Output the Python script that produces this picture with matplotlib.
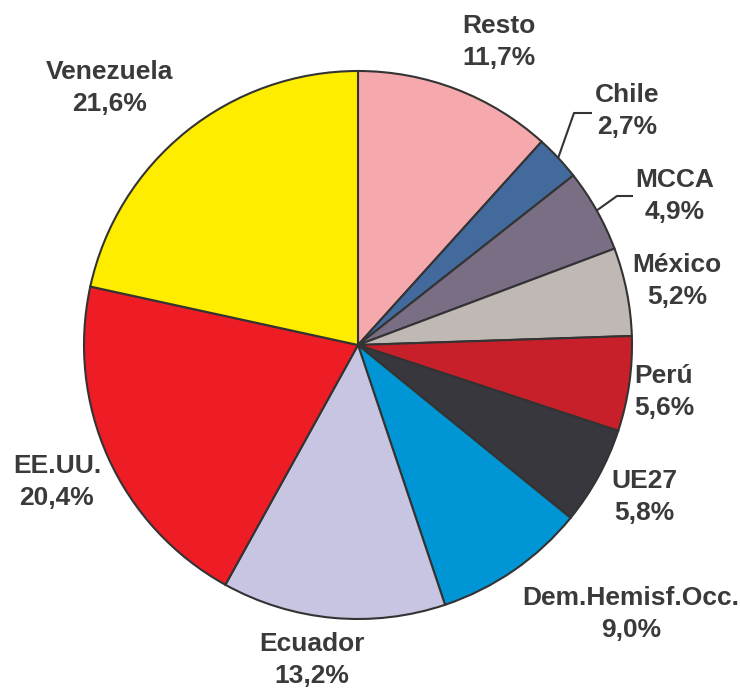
import numpy as np
import matplotlib
matplotlib.use("Agg")
import matplotlib.pyplot as plt

# ---- data ----
labels = ["Resto", "Chile", "MCCA", "México", "Perú", "UE27",
          "Dem.Hemisf.Occ.", "Ecuador", "EE.UU.", "Venezuela"]
shares = [11.7, 2.7, 4.9, 5.2, 5.6, 5.8, 9.0, 13.2, 20.4, 21.6]
colors = ["#F6A9AC", "#436A9C", "#7A6E84", "#C0B8B5", "#C8202B",
          "#38373E", "#0096D6", "#C8C5E2", "#EE1C25", "#FFED00"]

# ---- style ----
TXT = "#3A3A3C"
EDGE = "#333333"
FONT = "Liberation Sans"
W, H = 740, 690
CX, CY, R = 358, 345, 274

# label centres in pixel coords (top-left origin)
label_pos = {
    "Resto": (499, 42),
    "Chile": (627, 111),
    "MCCA": (675, 196),
    "México": (677, 281),
    "Perú": (664, 392),
    "UE27": (644, 497),
    "Dem.Hemisf.Occ.": (631, 614),
    "Ecuador": (312, 660),
    "EE.UU.": (57, 482),
    "Venezuela": (110, 88),
}
# leader lines: elbow point and end point (pixel coords)
leaders = {
    "Chile": [(574, 113), (592, 113)],
    "MCCA": [(617, 196), (633, 196)],
}

fig = plt.figure(figsize=(W / 100, H / 100), dpi=100)
ax = fig.add_axes([0, 0, 1, 1])

wedges, _ = ax.pie(shares, colors=colors, startangle=90, counterclock=False,
                   center=(CX, H - CY), radius=R,
                   wedgeprops=dict(edgecolor=EDGE, linewidth=1.5))
ax.set_xlim(0, W)
ax.set_ylim(0, H)
ax.set_aspect("equal")
ax.axis("off")

total = sum(shares)
cum = 0.0
for lab, val in zip(labels, shares):
    mid = (cum + val / 2) / total * 2 * np.pi
    cum += val
    x, y = label_pos[lab]
    pct = f"{val:.1f}".replace(".", ",") + "%"
    ax.text(x, H - y, f"{lab}\n{pct}",
            ha="center", va="center", fontsize=19, fontweight="bold",
            color=TXT, family=FONT, linespacing=1.42)
    if lab in leaders:
        sx = CX + R * np.sin(mid)
        sy = CY - R * np.cos(mid)
        pts = [(sx, sy)] + leaders[lab]
        ax.plot([p[0] for p in pts], [H - p[1] for p in pts],
                color=EDGE, lw=1.5, solid_capstyle="butt")

fig.savefig("out.png", dpi=100, facecolor="white")
